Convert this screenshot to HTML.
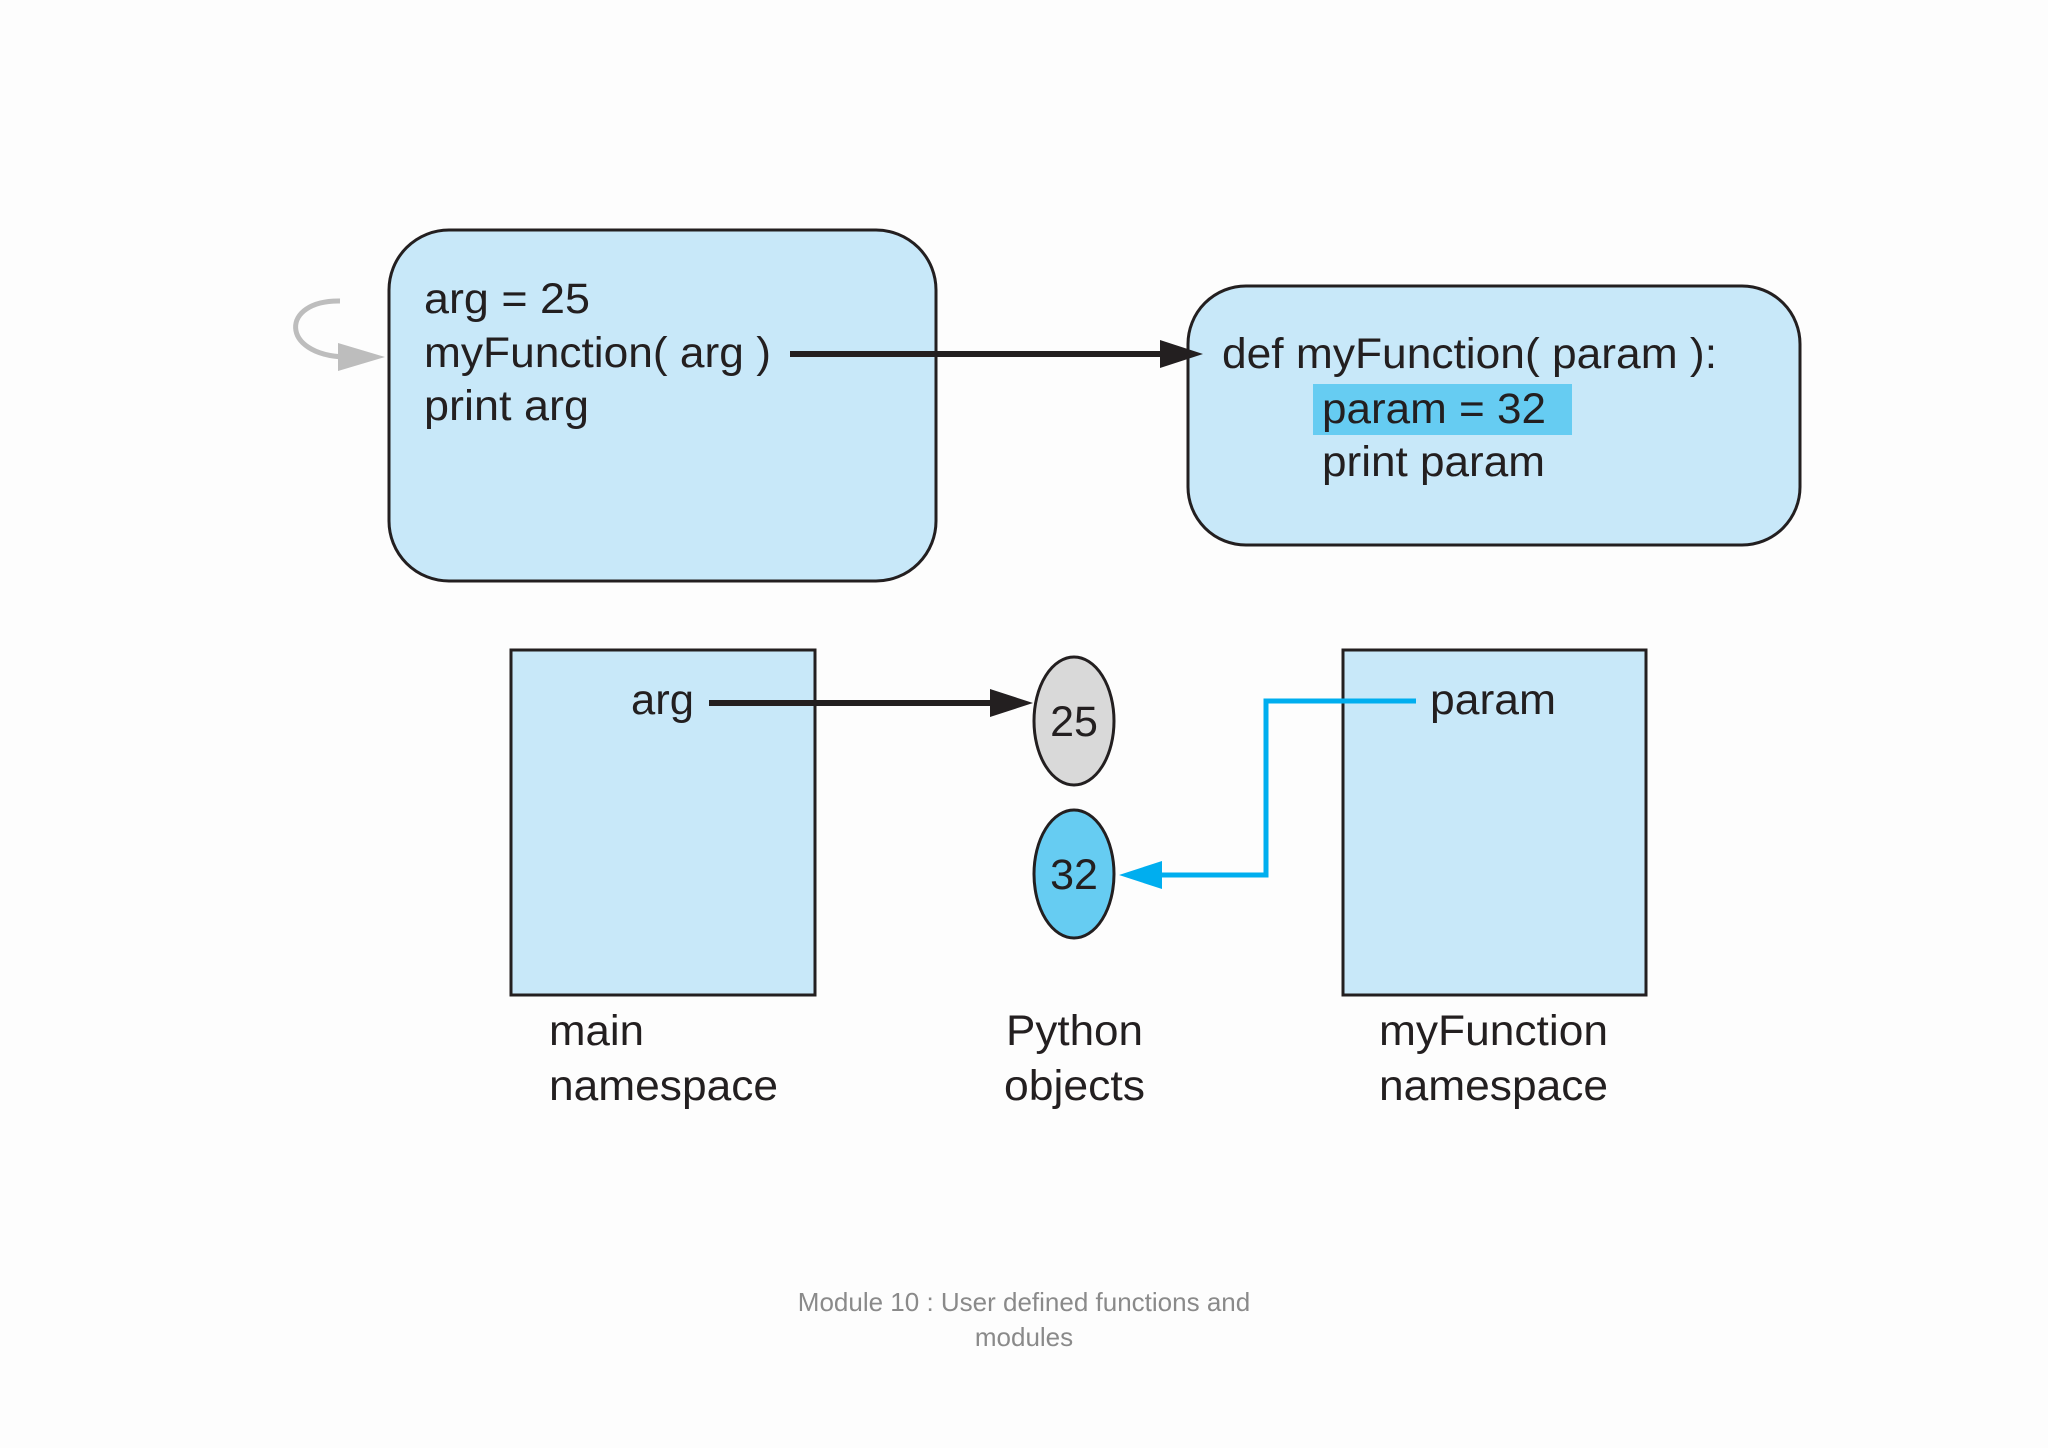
<!DOCTYPE html>
<html><head><meta charset="utf-8"><style>
html,body{margin:0;padding:0;background:#fff;}
svg{display:block;}
text{font-family:"Liberation Sans",sans-serif;fill:#231f20;}
</style></head><body>
<svg width="2048" height="1448" viewBox="0 0 2048 1448" xmlns="http://www.w3.org/2000/svg">
<defs>
<marker id="ab" markerWidth="10" markerHeight="10" refX="9" refY="5" orient="auto" markerUnits="userSpaceOnUse" viewBox="0 0 10 10"><path d="M0,0 L10,5 L0,10 z" fill="#231f20"/></marker>
</defs>
<rect width="2048" height="1448" fill="#fdfdfd"/>
<!-- top boxes -->
<rect x="389" y="230" width="547" height="351" rx="60" ry="60" fill="#c8e8f9" stroke="#231f20" stroke-width="3"/>
<rect x="1188" y="286" width="612" height="259" rx="58" ry="58" fill="#c8e8f9" stroke="#231f20" stroke-width="3"/>
<g font-size="43">
<text x="424" y="313" textLength="166" lengthAdjust="spacingAndGlyphs">arg = 25</text>
<text x="424" y="367" textLength="347" lengthAdjust="spacingAndGlyphs">myFunction( arg )</text>
<text x="424" y="420" textLength="165" lengthAdjust="spacingAndGlyphs">print arg</text>
<rect x="1313" y="384" width="259" height="51" fill="#66ccf2"/>
<text x="1222" y="368" textLength="495" lengthAdjust="spacingAndGlyphs">def myFunction( param ):</text>
<text x="1322" y="423" textLength="224" lengthAdjust="spacingAndGlyphs">param = 32</text>
<text x="1322" y="476" textLength="223" lengthAdjust="spacingAndGlyphs">print param</text>
</g>
<!-- call arrow -->
<line x1="790" y1="354" x2="1165" y2="354" stroke="#231f20" stroke-width="6"/>
<path d="M1160,340 L1203,354 L1160,368 z" fill="#231f20"/>
<!-- gray loop -->
<path d="M340,301 C280,300 280,355 345,357" fill="none" stroke="#bdbdbd" stroke-width="5"/>
<path d="M338,343 L385,357 L338,371 z" fill="#bdbdbd"/>
<!-- namespaces -->
<rect x="511" y="650" width="304" height="345" fill="#c8e8f9" stroke="#231f20" stroke-width="3"/>
<rect x="1343" y="650" width="303" height="345" fill="#c8e8f9" stroke="#231f20" stroke-width="3"/>
<g font-size="43">
<text x="631" y="714" textLength="63" lengthAdjust="spacingAndGlyphs">arg</text>
<text x="1430" y="714" textLength="126" lengthAdjust="spacingAndGlyphs">param</text>
</g>
<!-- objects -->
<ellipse cx="1074" cy="721" rx="40" ry="64" fill="#d9d9d9" stroke="#231f20" stroke-width="3"/>
<ellipse cx="1074" cy="874" rx="40" ry="64" fill="#66ccf2" stroke="#231f20" stroke-width="3"/>
<g font-size="43" text-anchor="middle">
<text x="1074" y="736">25</text>
<text x="1074" y="889">32</text>
</g>
<line x1="709" y1="703" x2="995" y2="703" stroke="#231f20" stroke-width="6"/>
<path d="M990,689 L1033,703 L990,717 z" fill="#231f20"/>
<polyline points="1416,701 1266,701 1266,875 1155,875" fill="none" stroke="#00aeef" stroke-width="5"/>
<path d="M1162,861 L1119,875 L1162,889 z" fill="#00aeef"/>
<!-- labels -->
<g font-size="43">
<text x="549" y="1045" textLength="95" lengthAdjust="spacingAndGlyphs">main</text>
<text x="549" y="1100" textLength="229" lengthAdjust="spacingAndGlyphs">namespace</text>
<text x="1006" y="1045" textLength="137" lengthAdjust="spacingAndGlyphs">Python</text>
<text x="1004" y="1100" textLength="141" lengthAdjust="spacingAndGlyphs">objects</text>
<text x="1379" y="1045" textLength="229" lengthAdjust="spacingAndGlyphs">myFunction</text>
<text x="1379" y="1100" textLength="229" lengthAdjust="spacingAndGlyphs">namespace</text>
</g>
<g font-size="26" text-anchor="middle">
<text x="1024" y="1311" style="fill:#8a8a8a">Module 10 : User defined functions and</text>
<text x="1024" y="1346" style="fill:#8a8a8a">modules</text>
</g>
</svg>
</body></html>
